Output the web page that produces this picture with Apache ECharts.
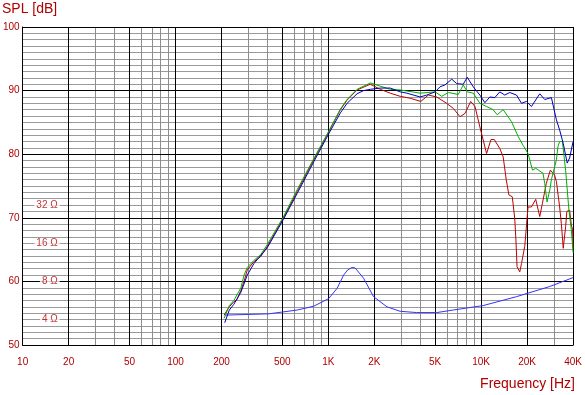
<!DOCTYPE html>
<html>
<head>
<meta charset="utf-8">
<script src="https://cdn.jsdelivr.net/npm/echarts@6/dist/echarts.min.js"></script>
<style>html,body{margin:0;padding:0;background:#fff;}#c{width:585px;height:395px;}</style>
</head>
<body>
<div id="c"></div>
<script>
// ---- axis ticks ----
const xTickFreqs = [10, 20, 50, 100, 200, 500, 1000, 2000, 5000, 10000, 20000, 40000];
const xTickLabels = ['10', '20', '50', '100', '200', '500', '1K', '2K', '5K', '10K', '20K', '40K'];
const xMinorFreqs = [30, 40, 60, 70, 80, 90, 300, 400, 600, 700, 800, 900,
  3000, 4000, 6000, 7000, 8000, 9000, 30000];
const yTicks = [50, 60, 70, 80, 90, 100];
const impLabels = ['32 \u03A9', '16 \u03A9', '8 \u03A9', '4 \u03A9'];
const impLevels = [72, 66, 60, 54];
const impLabelFreq = 17.6;

// ---- series data [freq Hz, dB] ----
const redSPL = [
  [208, 54.7], [225, 56.0], [241, 56.8], [252, 57.1], [268, 58.6], [281, 60.0], [295, 61.8],
  [326, 63.1], [361, 63.9], [399, 65.5], [507, 69.9], [625, 74.1], [803, 79.1], [1006, 83.5],
  [1200, 87.0], [1327, 88.5], [1543, 90.1], [1883, 91.0], [2188, 90.2], [2543, 89.6],
  [2954, 89.1], [3433, 88.8], [4030, 88.3], [4519, 89.3], [5124, 89.0], [5956, 88.0],
  [6577, 87.2], [7277, 85.9], [7838, 86.4], [8551, 88.3], [9120, 87.5], [9815, 84.3],
  [10860, 80.1], [11600, 82.3], [12200, 82.3], [13250, 80.9], [13940, 79.6], [14600, 76.0],
  [15200, 73.6], [16000, 73.3], [16600, 69.9], [16900, 66.5], [17190, 62.3], [17910, 61.5],
  [18380, 62.8], [19300, 65.5], [20280, 71.7], [21350, 71.7], [22770, 72.9], [24200, 70.2],
  [25200, 72.3], [26700, 75.4], [28390, 77.5], [30280, 76.7], [31100, 75.7], [32660, 71.7],
  [33500, 69.1], [34480, 65.2], [35730, 68.6], [36400, 71.0], [37950, 71.2], [38950, 68.9],
  [39700, 68.1], [40000, 65.2]
];
const greenSPL = [
  [208, 54.2], [225, 56.2], [241, 57.0], [268, 59.0], [281, 61.0], [295, 62.2], [326, 63.3],
  [361, 64.2], [399, 65.8], [507, 70.1], [625, 74.4], [803, 79.3], [1006, 83.6], [1200, 87.1],
  [1327, 88.6], [1543, 90.2], [1883, 91.2], [2188, 90.7], [2543, 90.2], [2954, 90.1],
  [3990, 89.6], [5000, 89.8], [5524, 89.1], [6100, 89.7], [7093, 89.4], [7642, 90.9],
  [8115, 89.8], [8878, 89.6], [9815, 88.0], [10860, 87.5], [11990, 87.0], [12740, 86.2],
  [13940, 87.0], [15820, 85.1], [17460, 82.8], [18820, 81.4], [20280, 80.1], [21690, 77.5],
  [22770, 77.8], [25420, 77.0], [26080, 75.4], [27000, 72.5], [28170, 74.4], [28840, 76.0],
  [29510, 75.7], [31100, 79.1], [31850, 81.2], [32660, 82.0], [34030, 82.0], [35730, 77.5],
  [37560, 71.2], [38950, 68.1], [40000, 64.5]
];
const blueSPL = [
  [210, 53.5], [225, 55.5], [241, 56.4], [268, 58.3], [295, 61.0], [326, 62.8], [399, 65.3],
  [507, 69.7], [625, 73.8], [803, 78.8], [1006, 83.2], [1200, 86.5], [1327, 88.0], [1543, 89.5],
  [1700, 90.0], [1883, 90.2], [2188, 90.4], [2543, 90.4], [2954, 89.8], [3264, 89.6],
  [3990, 89.0], [4413, 89.3], [5000, 89.8], [5386, 90.6], [5807, 90.9], [6423, 91.8],
  [6925, 91.1], [7642, 91.0], [8115, 92.1], [8878, 90.6], [9815, 89.3], [10585, 88.1],
  [11410, 89.0], [12300, 88.9], [13250, 89.8], [14290, 89.3], [15400, 89.7], [17050, 89.3],
  [18380, 88.0], [19800, 88.3], [21350, 87.5], [24200, 89.5], [26080, 88.6], [28840, 88.9],
  [31100, 85.4], [32660, 83.8], [34480, 81.7], [36600, 78.6], [37950, 79.4], [40000, 82.0]
];
const impedance = [
  [210, 54.7], [408, 54.9], [626, 55.5], [803, 56.1], [1006, 57.3], [1141, 58.9], [1260, 61.0],
  [1340, 61.8], [1430, 62.2], [1500, 62.1], [1543, 61.8], [1702, 60.5], [1978, 57.6],
  [2420, 56.0], [2954, 55.3], [3795, 55.1], [5124, 55.1], [6577, 55.5], [10320, 56.2],
  [17050, 57.6], [28170, 59.2], [40000, 60.6]
];

const RED_TXT = '#b00000';
const lg = v => Math.log10(v);
const toXY = arr => arr.map(p => [lg(p[0]), p[1]]);
const X0 = lg(10), X1 = lg(40000);
const labelMap = {};
xTickFreqs.forEach((f, i) => { labelMap[f] = xTickLabels[i]; });

const chart = echarts.init(document.getElementById('c'), null, { renderer: 'canvas' });
const lineSeries = (data, color) => ({
  type: 'line', data: toXY(data), xAxisIndex: 1, yAxisIndex: 1,
  showSymbol: false, symbol: 'none', smooth: false, z: 3,
  lineStyle: { color: color, width: 1 }, silent: true
});

chart.setOption({
  animation: false,
  backgroundColor: '#fff',
  grid: { left: 21, right: 11, top: 27, bottom: 50, containLabel: false },
  xAxis: [
    {
      type: 'value', min: X0, max: X1, position: 'bottom', z: 0,
      axisLine: { show: false }, axisLabel: { show: false },
      axisTick: { show: false, customValues: xMinorFreqs.map(lg) },
      splitLine: { show: true, lineStyle: { color: '#8c8c8c', width: 1 } }
    },
    {
      type: 'value', min: X0, max: X1, position: 'bottom', z: 1,
      axisLine: { show: true, lineStyle: { color: '#000', width: 1 } },
      axisTick: { show: false, customValues: xTickFreqs.map(lg) },
      axisLabel: {
        show: true, customValues: xTickFreqs.map(lg), color: RED_TXT,
        fontFamily: 'Liberation Sans', fontSize: 10, margin: 12,
        formatter: v => labelMap[Math.round(Math.pow(10, v))] || ''
      },
      splitLine: { show: true, lineStyle: { color: '#000', width: 1 } }
    }
  ],
  yAxis: [
    {
      type: 'value', min: 50, max: 100, interval: 1, position: 'left', z: 0,
      axisLine: { show: false }, axisTick: { show: false }, axisLabel: { show: false },
      splitLine: { show: true, lineStyle: { color: '#9a9a9a', width: 1 } }
    },
    {
      type: 'value', min: 50, max: 100, interval: 10, position: 'left', z: 1,
      axisLine: { show: true, lineStyle: { color: '#000', width: 1 } },
      axisTick: { show: false },
      axisLabel: { show: true, color: RED_TXT, fontFamily: 'Liberation Sans', fontSize: 10, margin: 3,
        customValues: yTicks },
      splitLine: { show: true, lineStyle: { color: '#000', width: 1 } }
    }
  ],
  graphic: [
    { type: 'text', left: 2, top: 2, style: { text: 'SPL [dB]', fill: RED_TXT,
      font: '14px "Liberation Sans"' } },
    { type: 'text', right: 10, top: 377, style: { text: 'Frequency [Hz]', fill: RED_TXT,
      font: '14px "Liberation Sans"' } }
  ],
  series: [
    lineSeries(impedance, '#3333ff'),
    lineSeries(redSPL, '#c00000'),
    lineSeries(greenSPL, '#00b000'),
    lineSeries(blueSPL, '#0000c0'),
    {
      type: 'scatter', xAxisIndex: 1, yAxisIndex: 1, z: 5, silent: true,
      symbol: 'rect', symbolSize: 1, itemStyle: { color: 'rgba(255,255,255,0)' },
      data: impLabels.map((t, i) => ({ name: t, value: [lg(impLabelFreq), impLevels[i]] })),
      label: {
        show: true, position: 'left', distance: 0, formatter: '{b}',
        color: RED_TXT, fontFamily: 'Liberation Sans', fontSize: 10, lineHeight: 10,
        backgroundColor: '#ffffff', padding: [0, 2, 0, 2]
      },
      labelLayout: { hideOverlap: false }
    }
  ]
});
</script>
</body>
</html>
